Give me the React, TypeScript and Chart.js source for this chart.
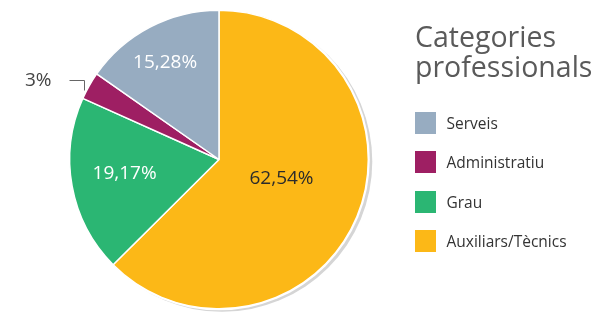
import React, { useEffect, useRef } from "react";
import { Chart, registerables } from "chart.js";

Chart.register(...registerables);

// Slices clockwise from 12 o'clock
const categories = ["Auxiliars/Tècnics", "Grau", "Administratiu", "Serveis"];
const values = [62.54, 19.17, 3, 15.28];
const colors = ["#fcb817", "#2bb673", "#9e1f63", "#97acc1"];
const labelColors = ["#2b2b2b", "#ffffff", "#444444", "#ffffff"];
const legendTitle = ["Categories", "professionals"];
const legendOrder = ["Serveis", "Administratiu", "Grau", "Auxiliars/Tècnics"];

// label placement style: distance (fraction of radius) and angular shift (deg)
const labelRadius = [0.437, 0.64, 1, 0.745];
const labelShift = [-6, 1.6, 0, -1.5];

const FONT = '"Open Sans", "Noto Sans", sans-serif';

const fmt = (v: number) => String(v).replace(".", ",") + "%";

const shadowPlugin = {
  id: "pieShadow",
  beforeDatasetsDraw(chart: any) {
    const arc = chart.getDatasetMeta(0).data[0];
    if (!arc) return;
    const { x, y, outerRadius } = arc.getProps(["x", "y", "outerRadius"], true);
    const ctx = chart.ctx;
    ctx.save();
    ctx.fillStyle = "#d5d5d5";
    ctx.beginPath();
    ctx.arc(x + 3, y + 2, outerRadius + 1, 0, Math.PI * 2);
    ctx.fill();
    ctx.fillStyle = "#ffffff";
    ctx.beginPath();
    ctx.arc(x, y, outerRadius + 1.5, 0, Math.PI * 2);
    ctx.fill();
    ctx.restore();
  },
};

const labelPlugin = {
  id: "pieLabels",
  afterDatasetsDraw(chart: any) {
    const meta = chart.getDatasetMeta(0);
    const ctx = chart.ctx;
    ctx.save();
    ctx.font = `19px ${FONT}`;
    meta.data.forEach((arc: any, i: number) => {
      const { x, y, startAngle, endAngle, outerRadius } = arc.getProps(
        ["x", "y", "startAngle", "endAngle", "outerRadius"],
        true
      );
      const mid = (startAngle + endAngle) / 2;
      const text = fmt(values[i]);
      ctx.fillStyle = labelColors[i];
      if (values[i] < 5) {
        const ex = x + Math.cos(mid) * outerRadius;
        const ey = y + Math.sin(mid) * outerRadius;
        ctx.strokeStyle = "#666666";
        ctx.lineWidth = 1;
        ctx.beginPath();
        const vx = Math.round(ex - 5) + 0.5;
        const hy = Math.round(ey - 6) + 0.5;
        ctx.moveTo(vx, hy + 10);
        ctx.lineTo(vx, hy);
        ctx.lineTo(vx - 15, hy);
        ctx.stroke();
        ctx.textAlign = "right";
        ctx.textBaseline = "middle";
        ctx.fillText(text, vx - 33, hy + 0.5);
      } else {
        const a = mid + (labelShift[i] * Math.PI) / 180;
        const d = outerRadius * labelRadius[i];
        ctx.textAlign = "center";
        ctx.textBaseline = "middle";
        ctx.fillText(text, x + Math.cos(a) * d, y + Math.sin(a) * d);
      }
    });
    ctx.restore();
  },
};

const legendPlugin = {
  id: "sideLegend",
  afterDraw(chart: any) {
    const ctx = chart.ctx;
    ctx.save();
    ctx.fillStyle = "#5a5a5a";
    ctx.font = `28.5px ${FONT}`;
    ctx.textAlign = "left";
    ctx.textBaseline = "alphabetic";
    ctx.fillText(legendTitle[0], 415, 46.5);
    ctx.fillText(legendTitle[1], 415, 77);
    ctx.font = `15.5px ${FONT}`;
    legendOrder.forEach((name, k) => {
      const idx = categories.indexOf(name);
      const top = 112 + k * 39.4;
      ctx.fillStyle = colors[idx];
      ctx.fillRect(415, Math.round(top), 21, 22);
      ctx.fillStyle = "#333333";
      ctx.fillText(name, 446.5, Math.round(top) + 17.3);
    });
    ctx.restore();
  },
};

export default function App() {
  const ref = useRef<HTMLCanvasElement>(null);
  useEffect(() => {
    if (!ref.current) return;
    const chart = new Chart(ref.current, {
      type: "pie",
      data: {
        labels: categories,
        datasets: [
          {
            data: values,
            backgroundColor: colors,
            borderColor: "#ffffff",
            borderWidth: 1.5,
            radius: 149.3,
            hoverOffset: 0,
          },
        ],
      },
      options: {
        responsive: false,
        animation: false,
        layout: { padding: { left: 69.5, right: 244.5, top: 10, bottom: 4 } },
        plugins: {
          legend: { display: false },
          tooltip: { enabled: false },
        },
      },
      plugins: [shadowPlugin, labelPlugin, legendPlugin],
    });
    return () => chart.destroy();
  }, []);
  return (
    <div style={{ position: "fixed", left: 0, top: 0, width: 613, height: 313, background: "#fff" }}>
      <canvas ref={ref} width={613} height={313} style={{ display: "block" }} />
    </div>
  );
}
